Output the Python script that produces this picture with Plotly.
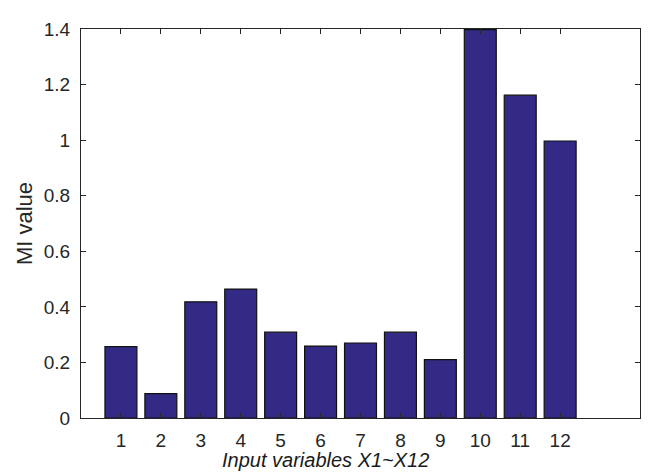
import plotly.graph_objects as go

categories = list(range(1, 13))
mi_values = [0.257, 0.088, 0.418, 0.464, 0.309, 0.259, 0.270, 0.309, 0.210, 1.398, 1.162, 0.997]
y_ticks = [0, 0.2, 0.4, 0.6, 0.8, 1.0, 1.2, 1.4]
y_tick_labels = ["0", "0.2", "0.4", "0.6", "0.8", "1", "1.2", "1.4"]

# page body has an 8px margin; figure is sized to compensate
fig = go.Figure()
fig.add_trace(go.Bar(
    x=categories, y=mi_values, width=0.8,
    marker=dict(color="#322A84", line=dict(color="#111111", width=1.2)),
))

fig.update_layout(
    width=652, height=465,
    margin=dict(l=73, r=20, t=21, b=55),
    plot_bgcolor="white", paper_bgcolor="white",
    showlegend=False,
    font=dict(family="Liberation Sans, Arial", size=19, color="#262626"),
    xaxis=dict(range=[0, 14], tickvals=categories, ticktext=[str(c) for c in categories],
               ticks="inside", ticklen=5, tickcolor="#262626", mirror="ticks",
               showline=True, linecolor="#262626", linewidth=1.2, showgrid=False,
               zeroline=False, tickfont=dict(size=19), ticklabelstandoff=5),
    yaxis=dict(range=[0, 1.4], tickvals=y_ticks, ticktext=y_tick_labels,
               ticks="inside", ticklen=5, tickcolor="#262626", mirror="ticks",
               showline=True, linecolor="#262626", linewidth=1.2, showgrid=False,
               zeroline=False, tickfont=dict(size=19), ticklabelstandoff=6),
    annotations=[
        dict(text="MI value", xref="paper", yref="paper", x=-0.102, y=0.501,
             xanchor="center", yanchor="middle", textangle=-90, showarrow=False,
             font=dict(size=22, color="#262626")),
        dict(text="<i>Input variables X1~X12</i>", xref="paper", yref="paper",
             x=0.4365, y=-0.108, xanchor="center", yanchor="middle",
             showarrow=False, font=dict(size=20, color="#1a1a1a")),
    ],
)

fig.write_html("out.html")
